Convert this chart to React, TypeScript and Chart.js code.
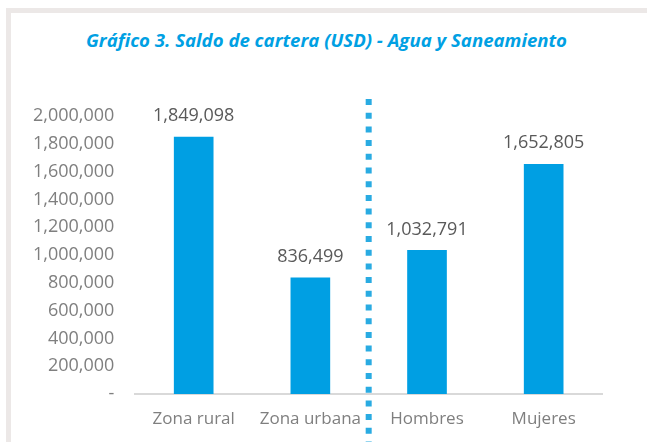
import React, { useEffect, useRef } from "react";
import { Chart, registerables } from "chart.js";

Chart.register(...registerables);

const categories = ["Zona rural", "Zona urbana", "Hombres", "Mujeres"];
const saldo = [1849098, 836499, 1032791, 1652805];
const yTicks = [0, 200000, 400000, 600000, 800000, 1000000, 1200000, 1400000, 1600000, 1800000, 2000000];
const title = "Gráfico 3. Saldo de cartera (USD) - Agua y Saneamiento";

const fmt = (v: number) => (v === 0 ? "-" : v.toLocaleString("en-US"));

const overlayPlugin = {
  id: "overlay",
  afterDatasetsDraw(chart: any) {
    const ctx = chart.ctx;
    const meta = chart.getDatasetMeta(0);
    ctx.save();
    ctx.font = "18px 'Open Sans'";
    ctx.fillStyle = "#595959";
    ctx.textAlign = "center";
    ctx.textBaseline = "middle";
    meta.data.forEach((bar: any, i: number) => {
      ctx.fillText(fmt(saldo[i]), bar.x, bar.y - 21);
    });
    // dotted separator between "Zona urbana" and "Hombres"
    const sepX = (meta.data[1].x + meta.data[2].x) / 2;
    ctx.strokeStyle = "#29abe2";
    ctx.lineWidth = 6;
    ctx.setLineDash([6, 7.7]);
    ctx.beginPath();
    ctx.moveTo(sepX, 99);
    ctx.lineTo(sepX, 442);
    ctx.stroke();
    ctx.restore();
  },
};

export default function App() {
  const ref = useRef<HTMLCanvasElement>(null);
  useEffect(() => {
    let chart: any = null;
    let cancelled = false;
    const build = () => {
      if (cancelled || !ref.current) return;
      chart = new Chart(ref.current, {
        type: "bar",
        data: {
          labels: categories,
          datasets: [
            {
              data: saldo,
              backgroundColor: "#009fe3",
              barThickness: 39,
            },
          ],
        },
        options: {
          responsive: false,
          animation: false,
          layout: { padding: { top: 116, left: 12, right: 45, bottom: -3 } },
          plugins: { legend: { display: false }, tooltip: { enabled: false }, title: { display: false } },
          scales: {
            x: {
              grid: { display: false, drawTicks: false },
              border: { display: true, color: "#d9d9d9", width: 2 },
              ticks: {
                font: { family: "'Open Sans'", size: 17, lineHeight: 1 },
                color: "#7f7f7f",
                padding: 17,
                maxRotation: 0,
                minRotation: 0,
                autoSkip: false,
              },
            },
            y: {
              min: 0,
              max: 2000000,
              afterBuildTicks: (axis: any) => {
                axis.ticks = yTicks.map((v) => ({ value: v }));
              },
              grid: { display: false, drawTicks: false },
              border: { display: false },
              ticks: {
                font: { family: "'Open Sans'", size: 18 },
                color: "#7f7f7f",
                padding: 21,
                callback: (v: any) => fmt(Number(v)),
              },
            },
          },
        },
        plugins: [overlayPlugin],
      });
    };
    const fonts: any = (document as any).fonts;
    if (fonts && fonts.load) {
      Promise.all([fonts.load("18px 'Open Sans'"), fonts.load("italic 700 18px 'Open Sans'")])
        .catch(() => null)
        .then(build);
    } else {
      build();
    }
    return () => {
      cancelled = true;
      if (chart) chart.destroy();
    };
  }, []);

  return (
    <div style={{ position: "fixed", left: 0, top: 0, width: 647, height: 442, overflow: "hidden", background: "#fff" }}>
      <div
        style={{
          position: "absolute",
          left: 6,
          top: 8,
          width: 700,
          height: 500,
          border: "5px solid #ece8e7",
          background: "#fff",
        }}
      />
      <div
        style={{
          position: "absolute",
          left: 0,
          top: 27,
          width: 653,
          textAlign: "center",
          fontFamily: "'Open Sans'",
          fontWeight: 700,
          fontStyle: "italic",
          fontSize: 18.6,
          color: "#00a0e3",
          lineHeight: "26px",
          whiteSpace: "nowrap",
        }}
      >
        {title}
      </div>
      <canvas ref={ref} width={647} height={442} style={{ position: "absolute", left: 0, top: 0 }} />
    </div>
  );
}
